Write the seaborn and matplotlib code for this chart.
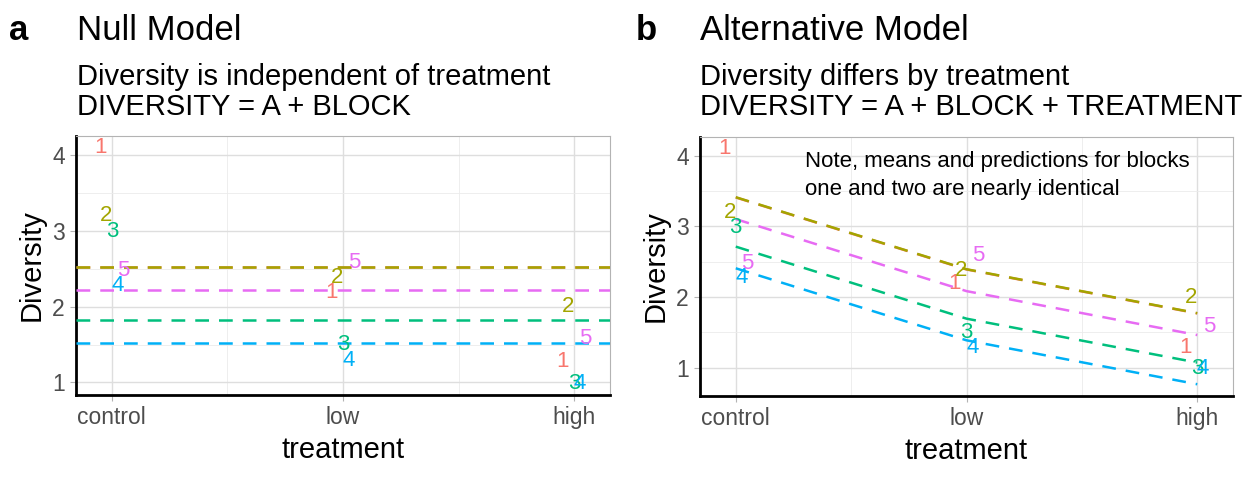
import numpy as np
import pandas as pd
import matplotlib
matplotlib.use("Agg")
import matplotlib.pyplot as plt
import seaborn as sns

# ---- data ----
treatments = ["control", "low", "high"]
blocks = [1, 2, 3, 4, 5]
block1 = [4.10, 2.19, 1.28]
block2 = [3.20, 2.38, 2.00]
block3 = [2.99, 1.50, 0.99]
block4 = [2.28, 1.29, 0.99]
block5 = [2.48, 2.59, 1.58]
palette = ["#F8766D", "#A3A500", "#00BF7D", "#00B0F6", "#E76BF3"]

rows = []
for b, vals in zip(blocks, [block1, block2, block3, block4, block5]):
    for i, t in enumerate(treatments):
        rows.append({"block": b, "treatment": t, "tx": i, "diversity": vals[i]})
df = pd.DataFrame(rows)
df["xpos"] = df["tx"] + (df["block"] - 3) * 0.025

# null model: block means; alternative: additive block + treatment
block_mean = df.groupby("block")["diversity"].mean()
trt_mean = df.groupby("tx")["diversity"].mean()
grand = df["diversity"].mean()
df["null_pred"] = df["block"].map(block_mean)
df["alt_pred"] = df["block"].map(block_mean) + df["tx"].map(trt_mean) - grand

sns.set_theme(style="whitegrid")
plt.rcParams["font.family"] = ["Liberation Sans", "DejaVu Sans"]
plt.rcParams["text.color"] = "black"
plt.rcParams["axes.labelcolor"] = "black"

W, H = 1248, 480
fig = plt.figure(figsize=(W / 100, H / 100), dpi=100)
ax_a = fig.add_axes([76 / W, 1 - 395 / H, 534 / W, 259 / H])
ax_b = fig.add_axes([700 / W, 1 - 396 / H, 533 / W, 259 / H])


def style_axes(ax, ymin, ymax):
    xr = df["xpos"].max() - df["xpos"].min()
    ax.set_xlim(df["xpos"].min() - 0.05 * xr, df["xpos"].max() + 0.05 * xr)
    yr = ymax - ymin
    ax.set_ylim(ymin - 0.05 * yr, ymax + 0.05 * yr)
    ax.set_xticks([0, 1, 2])
    ax.set_xticklabels(treatments)
    ax.set_yticks([1, 2, 3, 4])
    ax.set_xticks([0.5, 1.5], minor=True)
    ax.set_yticks([1.5, 2.5, 3.5], minor=True)
    ax.set_facecolor("white")
    ax.grid(which="major", color="#DEDEDE", linewidth=1.0)
    ax.grid(which="minor", color="#EBEBEB", linewidth=0.6)
    ax.set_axisbelow(True)
    for s in ["top", "right"]:
        ax.spines[s].set_color("#B3B3B3")
        ax.spines[s].set_linewidth(0.8)
    for s in ["left", "bottom"]:
        ax.spines[s].set_color("black")
        ax.spines[s].set_linewidth(2.0)
    ax.tick_params(which="major", length=4, width=0.8, color="#B3B3B3",
                   labelsize=16.5, labelcolor="#4D4D4D", pad=4, left=True, bottom=True)
    ax.tick_params(which="minor", length=0)
    ax.set_xlabel("treatment", fontsize=21, labelpad=5)
    ax.set_ylabel("Diversity", fontsize=21, labelpad=5)


def draw_labels(ax):
    for _, r in df.iterrows():
        ax.text(r["xpos"], r["diversity"], str(r["block"]), color=palette[r["block"] - 1],
                fontsize=16, ha="center", va="center", zorder=5)


# ---- panel a: null model ----
for b in blocks:
    ax_a.axhline(block_mean[b], color=palette[b - 1], linestyle=(0, (5.5, 4)),
                 linewidth=1.8, zorder=3)
draw_labels(ax_a)
style_axes(ax_a, df["diversity"].min(), df["diversity"].max())

# ---- panel b: alternative model ----
sns.lineplot(data=df, x="tx", y="alt_pred", hue="block", palette=palette,
             ax=ax_b, legend=False, linewidth=1.8, zorder=3)
for ln in ax_b.lines:
    ln.set_linestyle((0, (5.5, 4)))
draw_labels(ax_b)
style_axes(ax_b, min(df["diversity"].min(), df["alt_pred"].min()),
           max(df["diversity"].max(), df["alt_pred"].max()))
ax_b.text(0.30, 3.72, "Note, means and predictions for blocks\none and two are nearly identical",
          fontsize=16, ha="left", va="center", linespacing=1.4, color="black")

# ---- titles ----
def ftext(x, y, s, **kw):
    fig.text(x / W, 1 - y / H, s, va="baseline", ha="left", **kw)

ftext(9, 40, "a", fontsize=25, fontweight="bold")
ftext(77, 40, "Null Model", fontsize=25)
ftext(77, 85, "Diversity is independent of treatment", fontsize=21)
ftext(77, 115, "DIVERSITY = A + BLOCK", fontsize=21)
ftext(636, 40, "b", fontsize=25, fontweight="bold")
ftext(700, 40, "Alternative Model", fontsize=25)
ftext(700, 85, "Diversity differs by treatment", fontsize=21)
ftext(700, 115, "DIVERSITY = A + BLOCK + TREATMENT", fontsize=21)

fig.savefig("out.png", dpi=100, facecolor="white")
